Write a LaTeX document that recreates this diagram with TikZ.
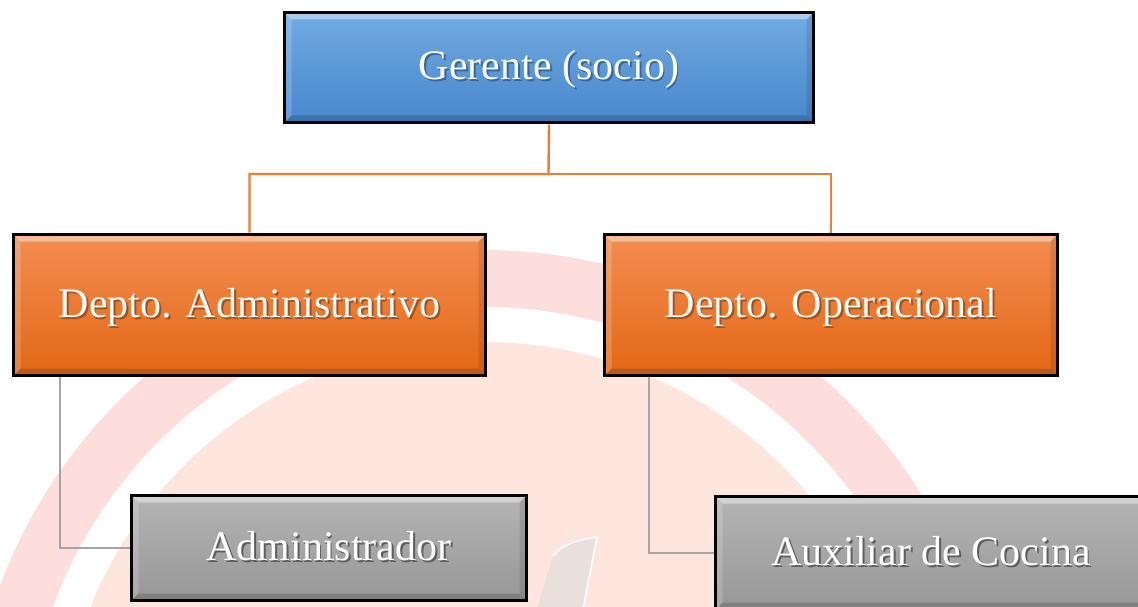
\documentclass[tikz,border=0pt]{standalone}
\usepackage{fontspec}
\setmainfont{Liberation Serif}
\usetikzlibrary{calc}

\definecolor{wmband}{HTML}{FDDEDC}
\definecolor{wmdisc}{HTML}{FEE5DE}
\definecolor{wmleaf}{HTML}{E9E0DC}
\definecolor{blueT}{HTML}{72AAE2}
\definecolor{blueB}{HTML}{4787CC}
\definecolor{orgT}{HTML}{F38D52}
\definecolor{orgB}{HTML}{E36815}
\definecolor{grayT}{HTML}{B4B4B4}
\definecolor{grayB}{HTML}{979797}
\definecolor{orgline}{HTML}{ED7D31}
\definecolor{grayline}{HTML}{A5A5A5}
\definecolor{shBlue}{HTML}{3566A0}
\definecolor{shOrg}{HTML}{A4501A}
\definecolor{shGray}{HTML}{5E5E5E}

% white label with a soft drop shadow
\newcommand\shtext[2]{\leavevmode\rlap{\kern1.8pt\raisebox{-1.8pt}{\textcolor{#1}{#2}}}#2}

\newcommand\bv{7pt}

\pgfdeclarelayer{logo}
\pgfdeclarelayer{wires}
\pgfsetlayers{logo,wires,main}

\tikzset{
  card/.style={
    rectangle, draw=black, line width=3.6pt, inner sep=0pt,
    text=white, font=\fontsize{42}{50}\selectfont,
    text height=29pt, text depth=4pt,
    path picture={
      \coordinate (NW) at (path picture bounding box.north west);
      \coordinate (NE) at (path picture bounding box.north east);
      \coordinate (SW) at (path picture bounding box.south west);
      \coordinate (SE) at (path picture bounding box.south east);
      % bevelled rim
      \fill[white,opacity=0.40] (NW) -- (NE) -- ([shift={(-\bv,-\bv)}]NE) -- ([shift={(\bv,-\bv)}]NW) -- cycle;
      \fill[white,opacity=0.18] (NW) -- ([shift={(\bv,-\bv)}]NW) -- ([shift={(\bv,\bv)}]SW) -- (SW) -- cycle;
      \fill[black,opacity=0.10] (NE) -- ([shift={(-\bv,-\bv)}]NE) -- ([shift={(-\bv,\bv)}]SE) -- (SE) -- cycle;
      \fill[black,opacity=0.16] (SW) -- ([shift={(\bv,\bv)}]SW) -- ([shift={(-\bv,\bv)}]SE) -- (SE) -- cycle;
      \draw[white,opacity=0.8,line width=1.2pt] ([xshift=-1.2pt]NE) -- ([xshift=-1.2pt]SE);
    }
  },
  bluecard/.style={card, top color=blueT, bottom color=blueB},
  orgcard/.style={card, top color=orgT, bottom color=orgB},
  graycard/.style={card, top color=grayT, bottom color=grayB},
  orgwire/.style={draw=orgline, line width=2.4pt},
  graywire/.style={draw=grayline, line width=2pt},
}

\begin{document}
\begin{tikzpicture}[x=1pt,y=-1pt]
  \useasboundingbox (0,0) rectangle (1138,607);
  \clip (0,0) rectangle (1138,607);

  % faint logo in the background
  \begin{pgfonlayer}{logo}
    \fill[white] (0,0) rectangle (1138,607);
    \fill[wmband] (483,765) circle[radius=515pt];
    \fill[white] (483,765) circle[radius=458pt];
    \fill[wmdisc] (483,765) circle[radius=423pt];
    \fill[wmleaf] (537,609) -- (553,556) .. controls (562,544) and (578,540) .. (597,537) -- (583,609) -- cycle;
    \draw[white,line width=1.6pt,line join=round] (553,556) .. controls (562,544) and (578,540) .. (597,537) -- (583,609);
  \end{pgfonlayer}

  % boxes
  \node[bluecard, minimum width=529pt, minimum height=110pt] (ger) at (549,67.5) {\shtext{shBlue}{Gerente (socio)}};
  \node[orgcard, minimum width=472pt, minimum height=141pt] (adm) at (249.5,305) {\shtext{shOrg}{Depto. Administrativo}};
  \node[orgcard, minimum width=453pt, minimum height=141pt] (ope) at (831,305) {\shtext{shOrg}{Depto. Operacional}};
  \node[graycard, minimum width=395pt, minimum height=105pt] (admr) at (329,548) {\shtext{shGray}{Administrador}};
  \node[graycard, minimum width=431pt, minimum height=113pt] (aux) at (931,553) {\shtext{shGray}{Auxiliar de Cocina}};

  % connectors
  \begin{pgfonlayer}{wires}
    \coordinate (hub) at (548.5,174);
    \draw[orgwire] (ger.south) -- (hub) -| (adm.north);
    \draw[orgwire] (hub) -| (ope.north);
    \draw[graywire] ([xshift=48pt]adm.south west) |- (admr.west);
    \draw[graywire] ([xshift=46pt]ope.south west) |- (aux.west);
  \end{pgfonlayer}
\end{tikzpicture}
\end{document}
